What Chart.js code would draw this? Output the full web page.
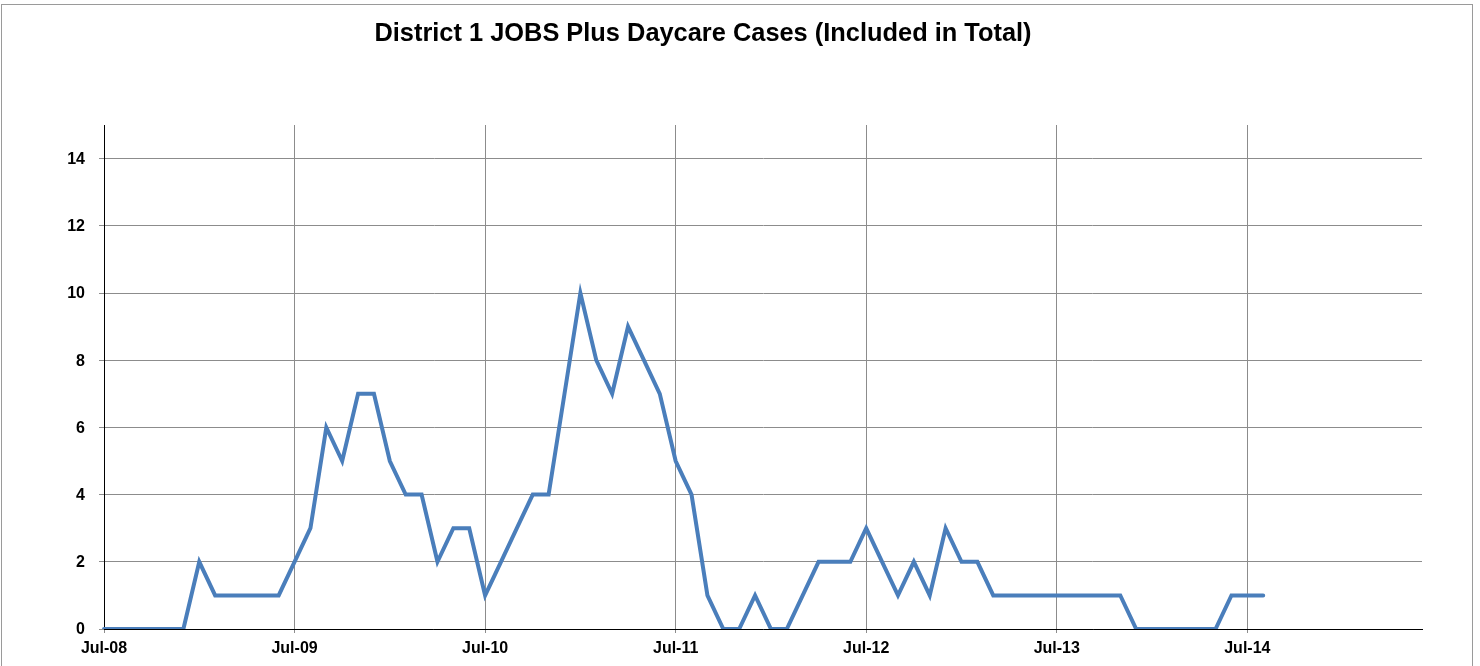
<!DOCTYPE html>
<html>
<head>
<meta charset="utf-8">
<script src="https://cdn.jsdelivr.net/npm/chart.js@4.4.1/dist/chart.umd.min.js"></script>
<style>
    html, body { margin: 0; padding: 0; background: #fff; }
    #frame { position: absolute; left: 1px; top: 4px; width: 1470px; height: 700px; border: 1px solid #9a9a9a; }
    #wrap { position: absolute; left: 0; top: 0; width: 1480px; height: 666px; }
</style>
</head>
<body>
<div id="frame"></div>
<div id="wrap"><canvas id="myChart"></canvas></div>
<script>
    var chartTitle = 'District 1 JOBS Plus Daycare Cases (Included in Total)';

    // axis runs Jul-08 .. Jun-15, one category per month
    var monthNames = ['Jan', 'Feb', 'Mar', 'Apr', 'May', 'Jun', 'Jul', 'Aug', 'Sep', 'Oct', 'Nov', 'Dec'];
    var years = ['08', '09', '10', '11', '12', '13', '14', '15'];

    // monthly cases from Jul-08 to Aug-14
    var cases = [
        0, 0, 0, 0, 0, 0, 2, 1, 1, 1, 1, 1,      // Jul-08 .. Jun-09
        2, 3, 6, 5, 7, 7, 5, 4, 4, 2, 3, 3,      // Jul-09 .. Jun-10
        1, 2, 3, 4, 4, 7, 10, 8, 7, 9, 8, 7,     // Jul-10 .. Jun-11
        5, 4, 1, 0, 0, 1, 0, 0, 1, 2, 2, 2,      // Jul-11 .. Jun-12
        3, 2, 1, 2, 1, 3, 2, 2, 1, 1, 1, 1,      // Jul-12 .. Jun-13
        1, 1, 1, 1, 1, 0, 0, 0, 0, 0, 0, 1,      // Jul-13 .. Jun-14
        1, 1                                     // Jul-14 .. Aug-14
    ];

    var labels = [];
    for (var y = 0; y < years.length; y++) {
        for (var m = 0; m < 12; m++) {
            if (y === 0 && m < 6) continue;
            if (y === years.length - 1 && m > 5) continue;
            labels.push(monthNames[m] + '-' + years[y]);
        }
    }

    var tickFont = { family: '"Liberation Sans", Arial, sans-serif', size: 16, weight: 'bold' };

    var titlePlugin = {
        id: 'titleText',
        afterDraw: function (chart) {
            var c = chart.ctx;
            c.save();
            c.font = 'bold 25.4px "Liberation Sans", Arial, sans-serif';
            c.fillStyle = '#000';
            c.textAlign = 'center';
            c.textBaseline = 'alphabetic';
            c.fillText(chartTitle, 703, 41);
            c.restore();
        }
    };

    var ctx = document.getElementById('myChart').getContext('2d');
    var chart = new Chart(ctx, {
        type: 'line',
        data: {
            labels: labels,
            datasets: [{
                label: 'Cases',
                data: cases,
                borderColor: '#4a7ebb',
                backgroundColor: '#4a7ebb',
                borderWidth: 4,
                pointRadius: 0,
                tension: 0,
                fill: false,
                borderCapStyle: 'round',
                borderJoinStyle: 'miter'
            }]
        },
        options: {
            responsive: true,
            maintainAspectRatio: false,
            animation: false,
            layout: { padding: { top: 125, right: 58, bottom: 0, left: 0 } },
            plugins: {
                legend: { display: false },
                tooltip: { enabled: false },
                title: { display: false }
            },
            scales: {
                x: {
                    offset: false,
                    grid: {
                        color: function (c) { return c.index % 12 === 0 ? '#8c8c8c' : 'transparent'; },
                        tickLength: 4
                    },
                    border: { color: '#000', width: 1 },
                    ticks: {
                        autoSkip: false,
                        maxRotation: 0,
                        minRotation: 0,
                        padding: 6,
                        color: '#000',
                        font: tickFont,
                        callback: function (v, i) { return i % 12 === 0 ? this.getLabelForValue(v) : ''; }
                    },
                    afterFit: function (s) { s.height = 37; }
                },
                y: {
                    min: 0,
                    max: 15,
                    grid: { color: '#8c8c8c', tickLength: 5 },
                    border: { color: '#000', width: 1 },
                    ticks: {
                        stepSize: 2,
                        includeBounds: false,
                        padding: 14,
                        labelOffset: 1,
                        color: '#000',
                        font: tickFont
                    },
                    afterFit: function (s) { s.width = 104; }
                }
            }
        },
        plugins: [titlePlugin]
    });
</script>
</body>
</html>
